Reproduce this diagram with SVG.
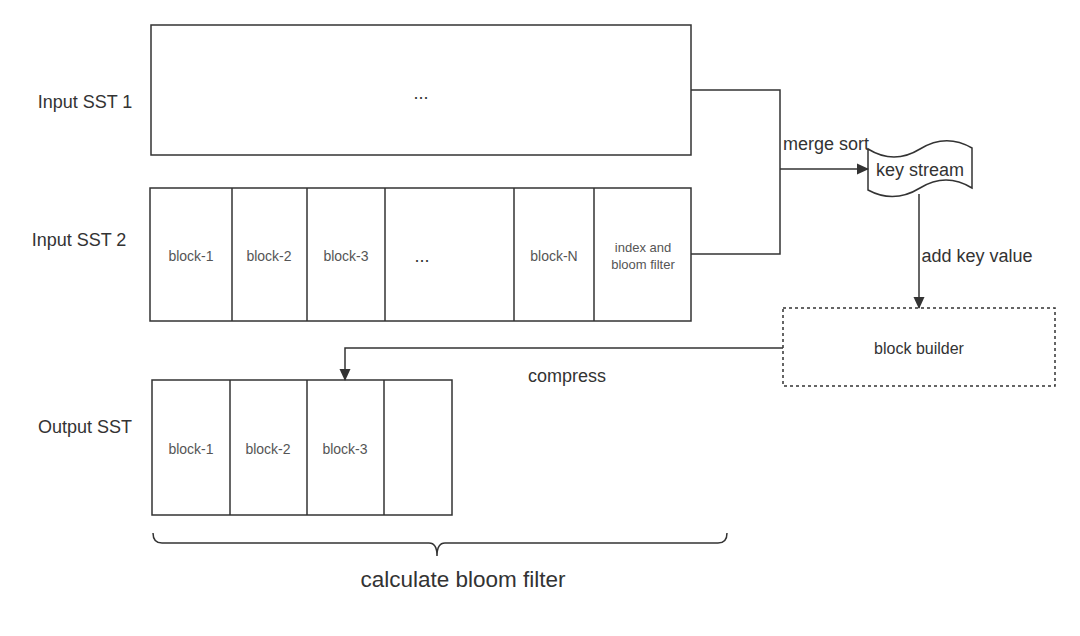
<svg xmlns="http://www.w3.org/2000/svg" width="1080" height="636" viewBox="0 0 1080 636">
<style>
  .box { fill: #fff; stroke: #333; stroke-width: 1.5; }
  .dash { fill: #fff; stroke: #333; stroke-width: 1.5; stroke-dasharray: 3 3; }
  .ln { fill: none; stroke: #333; stroke-width: 1.5; }
  .t { font-family: "Liberation Sans", Arial, sans-serif; fill: #333; text-anchor: middle; dominant-baseline: central; }
  .lbl { font-size: 18px; }
  .blk { font-size: 14px; fill: #555; }
  .sm { font-size: 13px; fill: #555; }
</style>
<defs>
  <marker id="arr" markerWidth="12" markerHeight="12" refX="11" refY="6" orient="auto" markerUnits="userSpaceOnUse" viewBox="0 0 12 12">
    <path d="M0,0.5 L12,6 L0,11.5 Z" fill="#333"/>
  </marker>
</defs>
<rect width="1080" height="636" fill="#fff"/>

<g id="labels">
  <text class="t lbl" x="85" y="102">Input SST 1</text>
  <text class="t lbl" x="79" y="240">Input SST 2</text>
  <text class="t lbl" x="85" y="427">Output SST</text>
</g>

<g id="input-sst-1">
  <rect class="box" x="151" y="25" width="540" height="130"/>
  <text class="t lbl" x="421" y="93">...</text>
</g>

<g id="input-sst-2">
  <rect class="box" x="150" y="188" width="541" height="133"/>
  <line class="ln" x1="232" y1="188" x2="232" y2="321"/>
  <line class="ln" x1="307" y1="188" x2="307" y2="321"/>
  <line class="ln" x1="385" y1="188" x2="385" y2="321"/>
  <line class="ln" x1="514" y1="188" x2="514" y2="321"/>
  <line class="ln" x1="594" y1="188" x2="594" y2="321"/>
  <text class="t blk" x="191" y="256">block-1</text>
  <text class="t blk" x="269" y="256">block-2</text>
  <text class="t blk" x="346" y="256">block-3</text>
  <text class="t lbl" x="422" y="256">...</text>
  <text class="t blk" x="554" y="256">block-N</text>
  <text class="t sm" x="643" y="247">index and</text>
  <text class="t sm" x="643" y="264">bloom filter</text>
</g>

<g id="key-stream">
  <path class="box" d="M868,149 Q894,165 920,149 T972,148 L972,188 Q946,172 920,188 T868,190 Z"/>
  <text class="t lbl" x="920" y="170">key stream</text>
</g>

<g id="block-builder">
  <rect class="dash" x="783" y="308" width="272" height="78"/>
  <text class="t" style="font-size:16px" x="919" y="348">block builder</text>
</g>

<g id="output-sst">
  <rect class="box" x="152" y="380" width="300" height="135"/>
  <line class="ln" x1="230" y1="380" x2="230" y2="515"/>
  <line class="ln" x1="307" y1="380" x2="307" y2="515"/>
  <line class="ln" x1="384" y1="380" x2="384" y2="515"/>
  <text class="t blk" x="191" y="449">block-1</text>
  <text class="t blk" x="268" y="449">block-2</text>
  <text class="t blk" x="345" y="449">block-3</text>
</g>

<g id="connectors">
  <polyline class="ln" points="691,90 780,90 780,254 691,254"/>
  <line class="ln" x1="780" y1="169" x2="868" y2="169" marker-end="url(#arr)"/>
  <line class="ln" x1="919" y1="194" x2="919" y2="308" marker-end="url(#arr)"/>
  <polyline class="ln" points="783,348 345,348 345,380" marker-end="url(#arr)"/>
  <text class="t lbl" x="826" y="144">merge sort</text>
  <text class="t lbl" x="977" y="256">add key value</text>
  <text class="t lbl" x="567" y="376">compress</text>
</g>

<g id="brace">
  <path class="ln" d="M153,533 Q153,543 162,543 L429,543 Q437,543 437,556 Q437,543 445,543 L718,543 Q727,543 727,533"/>
  <text class="t" style="font-size:22.5px" x="463" y="579">calculate bloom filter</text>
</g>
</svg>
